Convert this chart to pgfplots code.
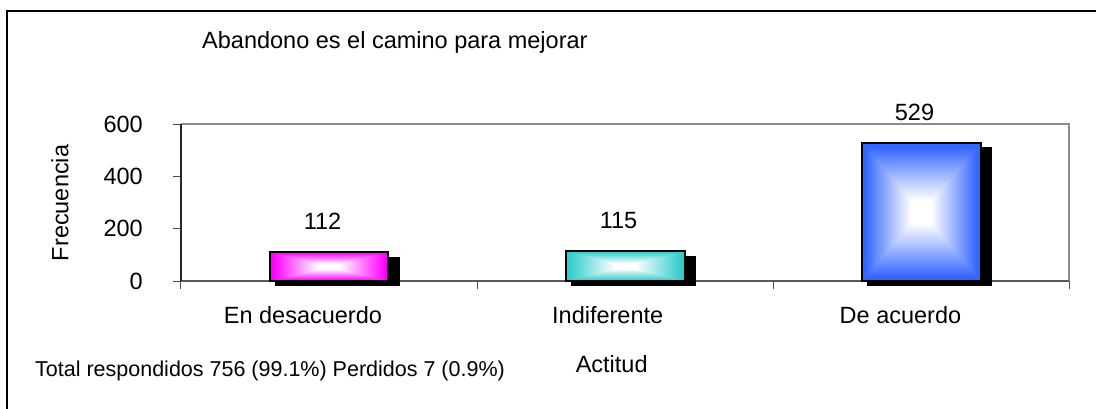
\documentclass[border=0pt]{standalone}
\usepackage{pgfplots}
\pgfplotsset{compat=1.18}
\usepackage{fontspec}
\setmainfont{Liberation Sans}
\newcommand{\fbig}{\fontsize{23.5bp}{28bp}\selectfont}
\newcommand{\fsmall}{\fontsize{21.5bp}{26bp}\selectfont}
% rectangular (box) gradient: white centre, colour at edges
\pgfdeclarefunctionalshading{boxmag}{\pgfpoint{-50bp}{-50bp}}{\pgfpoint{50bp}{50bp}}{}{%
abs exch abs 2 copy sub abs add add 50 div 0.17 sub 1.3 mul dup abs add 2 div dup 1 sub abs neg add 1 add 2 div
dup dup 0 mul 1 exch sub exch 1 mul 1 exch sub exch 3 -1 roll 0 mul 1 exch sub 3 1 roll}
\pgfdeclarefunctionalshading{boxteal}{\pgfpoint{-50bp}{-50bp}}{\pgfpoint{50bp}{50bp}}{}{%
abs exch abs 2 copy sub abs add add 50 div 0.17 sub 1.3 mul dup abs add 2 div dup 1 sub abs neg add 1 add 2 div
dup dup 0.2 mul 1 exch sub exch 0.2 mul 1 exch sub exch 3 -1 roll 0.8 mul 1 exch sub 3 1 roll}
\pgfdeclarefunctionalshading{boxblue}{\pgfpoint{-50bp}{-50bp}}{\pgfpoint{50bp}{50bp}}{}{%
abs exch abs 2 copy sub abs add add 50 div 0.17 sub 1.3 mul dup abs add 2 div dup 1 sub abs neg add 1 add 2 div
dup dup 0 mul 1 exch sub exch 0.6 mul 1 exch sub exch 3 -1 roll 0.8 mul 1 exch sub 3 1 roll}
\begin{document}
\begin{tikzpicture}
\useasboundingbox (-181bp,-128bp) rectangle (915bp,281bp);
\fill[white] (-181bp,-128bp) rectangle (915bp,281bp);
\draw[line width=1.2bp] (-174bp,-140bp) -- (-174bp,270bp) -- (930bp,270bp);
\begin{axis}[
  at={(0,0)}, anchor=south west,
  width=888bp, height=157bp, scale only axis,
  xmin=-0.5, xmax=2.5, ymin=0, ymax=600,
  clip=false,
  axis line style={draw=none},
  tick pos=left, tick align=outside,
  major tick length=8bp,
  tick style={draw=black!70, line width=1bp},
  ytick={0,200,400,600},
  xtick={-0.5,0.5,1.5,2.5}, xticklabels={},
  extra x ticks={-0.088,0.9416,1.9307},
  extra x tick labels={En desacuerdo,Indiferente,De acuerdo},
  extra x tick style={major tick length=0pt, xticklabel style={anchor=base, inner sep=0pt, yshift=-42bp}},
  xticklabel style={font=\fbig},
  yticklabel style={font=\fbig, anchor=east, inner sep=0pt},
  yticklabel shift=30bp,
  /pgf/number format/assume math mode=true,
]
\draw[draw=black!45, line width=2bp] (rel axis cs:0,1) -- (rel axis cs:1,1) -- (rel axis cs:1,0);
\draw[draw=black!65, line width=1.6bp] (rel axis cs:0,0) -- (rel axis cs:1,0);
\draw[draw=black!85, line width=1.4bp] (rel axis cs:0,0) -- (rel axis cs:0,1);
% shadows
\addplot[fill=black, draw=none] coordinates {(-0.181,-18.5) (0.240,-18.5) (0.240,93.5) (-0.181,93.5)} -- cycle;
\addplot[fill=black, draw=none] coordinates {(0.819,-18.5) (1.240,-18.5) (1.240,96.5) (0.819,96.5)} -- cycle;
\addplot[fill=black, draw=none] coordinates {(1.819,-18.5) (2.240,-18.5) (2.240,510.5) (1.819,510.5)} -- cycle;
% bars
\addplot[ybar, bar width=0.402, bar shift=0pt, draw=black, line width=2bp, shading=boxmag] coordinates {(0,112)};
\addplot[ybar, bar width=0.402, bar shift=0pt, draw=black, line width=2bp, shading=boxteal] coordinates {(1,115)};
\addplot[ybar, bar width=0.402, bar shift=0pt, draw=black, line width=2bp, shading=boxblue] coordinates {(2,529)};
% value labels
\addplot[draw=none, mark=none, nodes near coords,
  every node near coord/.style={anchor=base, inner sep=0pt, yshift=22bp, xshift=-6.5bp, font=\fbig, black}]
  coordinates {(0,112) (1,115) (2,529)};
\end{axis}
\node[font=\fbig, anchor=base west, inner sep=0pt] at (21bp,232bp) {Abandono es el camino para mejorar};
\node[font=\fbig, anchor=center, rotate=90, inner sep=0pt] at (-121bp,78bp) {Frecuencia};
\node[font=\fbig, anchor=base, inner sep=0pt] at (430.7bp,-91bp) {Actitud};
\node[font=\fsmall, anchor=base west, inner sep=0pt] at (-146bp,-95bp) {Total respondidos 756 (99.1\%) Perdidos 7 (0.9\%)};
\end{tikzpicture}
\end{document}
